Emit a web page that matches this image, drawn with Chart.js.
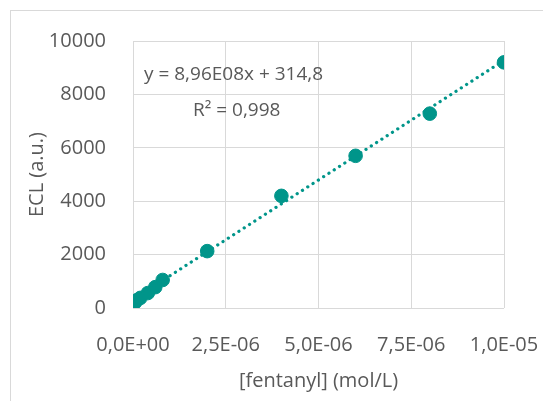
<!DOCTYPE html>
<html>
<head>
<meta charset="utf-8">
<script src="https://cdn.jsdelivr.net/npm/chart.js@4"></script>
<style>
  html, body { margin: 0; padding: 0; background: #fff; }
  #wrap { width: 543px; height: 401px; position: relative; }
</style>
</head>
<body>
<div id="wrap"><canvas id="ch" width="543" height="401"></canvas></div>
<script>
// fentanyl concentration (mol/L) vs ECL signal
const concX = [5e-8, 1e-7, 2e-7, 4e-7, 6e-7, 8e-7, 2e-6, 4e-6, 6e-6, 8e-6, 1e-5];
const eclY  = [200, 290, 380, 560, 780, 1050, 2130, 4200, 5700, 7280, 9200];

// linear fit y = 8,96E08x + 314,8 (end points)
const trendX = [0, 1e-5];
const trendY = [314.8, 9274.8];

const xTicks = [0, 2.5e-6, 5e-6, 7.5e-6, 1e-5];
const yTicks = [0, 2000, 4000, 6000, 8000, 10000];
const eqText = ['y = 8,96E08x + 314,8', 'R\u00B2 = 0,998'];

const TEAL = '#00958a';
const GREY = '#595959';
const FONT = "'Open Sans', 'Noto Sans', sans-serif";

function sci(v){
  if (v === 0) return '0,0E+00';
  const e = Math.floor(Math.log10(Math.abs(v)) + 1e-9);
  const m = (v / Math.pow(10, e)).toFixed(1).replace('.', ',');
  const es = (e < 0 ? '-' : '+') + String(Math.abs(e)).padStart(2, '0');
  return m + 'E' + es;
}

const frame = {
  id: 'frame',
  beforeDraw(c){
    const ctx = c.ctx; ctx.save();
    ctx.strokeStyle = '#d9d9d9'; ctx.lineWidth = 1;
    ctx.strokeRect(10.5, 10.5, 600, 450);
    ctx.restore();
  },
  afterDraw(c){
    const ctx = c.ctx; ctx.save();
    ctx.fillStyle = GREY; ctx.font = '19px ' + FONT; ctx.textBaseline = 'middle';
    ctx.textAlign = 'left';
    ctx.fillText(eqText[0], 144, 75);
    ctx.fillText(eqText[1], 193, 111);
    ctx.restore();
  }
};

new Chart(document.getElementById('ch').getContext('2d'), {
  type: 'scatter',
  data: {
    datasets: [
      {
        type: 'line', label: 'fit',
        data: trendX.map((x, i) => ({ x, y: trendY[i] })),
        borderColor: TEAL, borderWidth: 3.2, borderDash: [0.1, 6.2], borderCapStyle: 'round',
        pointRadius: 0, fill: false, tension: 0
      },
      {
        label: 'ECL',
        data: concX.map((x, i) => ({ x, y: eclY[i] })),
        backgroundColor: TEAL, borderColor: TEAL, pointRadius: 6.8, pointHoverRadius: 6.8
      }
    ]
  },
  options: {
    responsive: false, animation: false,
    layout: { padding: { left: 21, top: 41, right: 39, bottom: 4 } },
    plugins: { legend: { display: false }, tooltip: { enabled: false } },
    scales: {
      x: {
        type: 'linear', min: 0, max: 1e-5,
        afterBuildTicks: s => { s.ticks = xTicks.map(v => ({ value: v })); },
        afterFit: s => { s.height = 89; s.paddingLeft = 0; s.paddingRight = 0; },
        grid: { color: '#d9d9d9', drawTicks: false },
        border: { display: false },
        ticks: { color: GREY, font: { family: FONT, size: 20 }, padding: 25, maxRotation: 0, callback: v => sci(v) },
        title: { display: true, text: '[fentanyl] (mol/L)', color: GREY, font: { family: FONT, size: 20 }, padding: { top: 4 } }
      },
      y: {
        min: 0, max: 10000,
        afterBuildTicks: s => { s.ticks = yTicks.map(v => ({ value: v })); },
        afterFit: s => { s.width = 112; s.paddingTop = 0; s.paddingBottom = 0; },
        grid: { color: '#d9d9d9', drawTicks: false },
        border: { display: false },
        ticks: { color: GREY, font: { family: FONT, size: 20 }, padding: 27, callback: v => String(v) },
        title: { display: true, text: 'ECL (a.u.)', color: GREY, font: { family: FONT, size: 20 }, padding: { bottom: 4 } }
      }
    }
  },
  plugins: [frame]
});
</script>
</body>
</html>
